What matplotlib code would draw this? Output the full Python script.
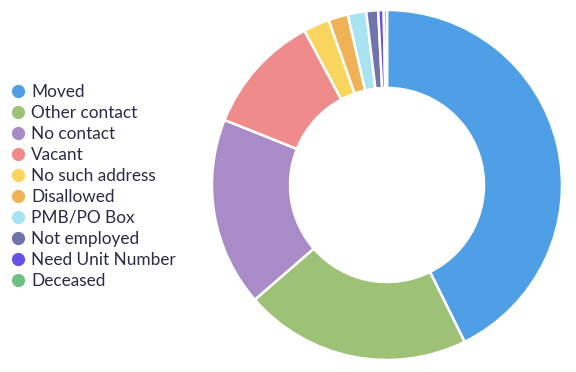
import matplotlib
matplotlib.use("Agg")
import matplotlib.pyplot as plt
from matplotlib.lines import Line2D

plt.rcParams["font.family"] = ["Lato", "DejaVu Sans"]

labels = ["Moved", "Other contact", "No contact", "Vacant", "No such address",
          "Disallowed", "PMB/PO Box", "Not employed", "Need Unit Number", "Deceased"]
shares = [42.6, 20.9, 17.4, 11.1, 2.4, 1.8, 1.7, 1.1, 0.5, 0.3]
colors = ["#4e9fe5", "#9dc177", "#a98bc7", "#ef8b8a", "#f9d55e",
          "#f0b257", "#a8e3f1", "#7073ac", "#6651e5", "#6cc081"]

fig = plt.figure(figsize=(5.76, 3.72), dpi=100)
ax = fig.add_axes([212 / 576, 12 / 372, 350 / 576, 350 / 372])
ax.pie(shares, colors=colors, startangle=90, counterclock=False, radius=1,
       wedgeprops=dict(width=1 - 97 / 175, edgecolor="white", linewidth=1.8))
ax.set_xlim(-1, 1)
ax.set_ylim(-1, 1)
ax.set_aspect("equal")
ax.axis("off")

handles = [Line2D([], [], marker="o", linestyle="none", markersize=8.5,
                  markerfacecolor=c, markeredgecolor=c) for c in colors]
fig.legend(handles, labels, loc="upper left", bbox_to_anchor=(0.005, 1 - 77 / 372),
           frameon=False, fontsize=12.4, handletextpad=0.35, labelspacing=0.29,
           borderaxespad=0, handlelength=0.9, labelcolor="#2b2b45")

fig.savefig("out.png", dpi=100)
